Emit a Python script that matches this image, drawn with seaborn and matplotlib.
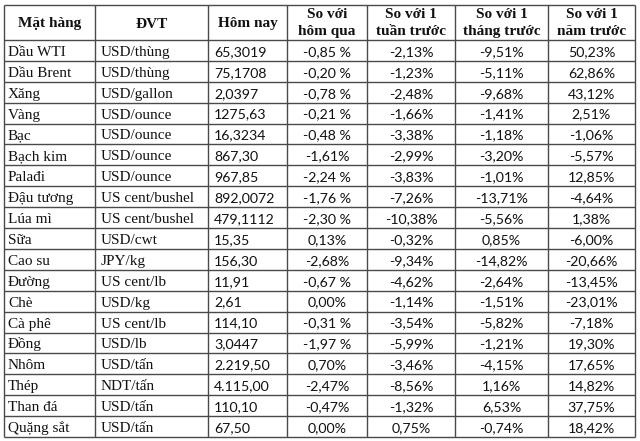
import matplotlib
matplotlib.use("Agg")
import matplotlib.pyplot as plt
import seaborn as sns

sns.set_theme(style="white")

headers = ["Mặt hàng", "ĐVT", "Hôm nay", "So với\nhôm qua", "So với 1\ntuần trước",
           "So với 1\ntháng trước", "So với 1\nnăm trước"]
items = ["Dầu WTI", "Dầu Brent", "Xăng", "Vàng", "Bạc", "Bạch kim", "Palađi", "Đậu tương",
         "Lúa mì", "Sữa", "Cao su", "Đường", "Chè", "Cà phê", "Đồng", "Nhôm", "Thép",
         "Than đá", "Quặng sắt"]
units = ["USD/thùng", "USD/thùng", "USD/gallon", "USD/ounce", "USD/ounce", "USD/ounce",
         "USD/ounce", "US cent/bushel", "US cent/bushel", "USD/cwt", "JPY/kg", "US cent/lb",
         "USD/kg", "US cent/lb", "USD/lb", "USD/tấn", "NDT/tấn", "USD/tấn", "USD/tấn"]
today = ["65,3019", "75,1708", "2,0397", "1275,63", "16,3234", "867,30", "967,85",
         "892,0072", "479,1112", "15,35", "156,30", "11,91", "2,61", "114,10", "3,0447",
         "2.219,50", "4.115,00", "110,10", "67,50"]
vs_day = ["-0,85 %", "-0,20 %", "-0,78 %", "-0,21 %", "-0,48 %", "-1,61%", "-2,24 %",
          "-1,76 %", "-2,30 %", "0,13%", "-2,68%", "-0,67 %", "0,00%", "-0,31 %", "-1,97 %",
          "0,70%", "-2,47%", "-0,47%", "0,00%"]
vs_week = ["-2,13%", "-1,23%", "-2,48%", "-1,66%", "-3,38%", "-2,99%", "-3,83%", "-7,26%",
           "-10,38%", "-0,32%", "-9,34%", "-4,62%", "-1,14%", "-3,54%", "-5,99%", "-3,46%",
           "-8,56%", "-1,32%", "0,75%"]
vs_month = ["-9,51%", "-5,11%", "-9,68%", "-1,41%", "-1,18%", "-3,20%", "-1,01%", "-13,71%",
            "-5,56%", "0,85%", "-14,82%", "-2,64%", "-1,51%", "-5,82%", "-1,21%", "-4,15%",
            "1,16%", "6,53%", "-0,74%"]
vs_year = ["50,23%", "62,86%", "43,12%", "2,51%", "-1,06%", "-5,57%", "12,85%", "-4,64%",
           "1,38%", "-6,00%", "-20,66%", "-13,45%", "-23,01%", "-7,18%", "19,30%", "17,65%",
           "14,82%", "37,75%", "18,42%"]

W, H = 640, 441
fig = plt.figure(figsize=(W / 100, H / 100), dpi=100)
ax = fig.add_axes([0, 0, 1, 1])
ax.set_xlim(0, W)
ax.set_ylim(H, 0)
ax.axis("off")

col_x = [4, 95, 208, 287, 367, 455, 548, 635]
top, head_bottom, bottom = 5, 40, 437
n = len(items)
rh = (bottom - head_bottom) / n
row_y = [head_bottom + i * rh for i in range(n + 1)]

line_c = "#4a4a4a"
ax.hlines([top] + row_y, col_x[0], col_x[-1], color=line_c, lw=1.0)
ax.vlines(col_x, top, bottom, color=line_c, lw=1.0)

serif = ["Liberation Serif", "DejaVu Serif"]
sans = ["Lato", "DejaVu Sans"]
tc = "#111111"

# headers
for j, h in enumerate(headers):
    cx = (col_x[j] + col_x[j + 1]) / 2
    if "\n" in h:
        l1, l2 = h.split("\n")
        ax.text(cx, 18.5, l1, ha="center", va="baseline", fontsize=11, fontweight="bold",
                family=serif, color=tc)
        ax.text(cx, 35, l2, ha="center", va="baseline", fontsize=11, fontweight="bold",
                family=serif, color=tc)
    else:
        ax.text(cx, 27.5, h, ha="center", va="baseline", fontsize=11, fontweight="bold",
                family=serif, color=tc)

cols = [vs_day, vs_week, vs_month, vs_year]
for i in range(n):
    by = row_y[i + 1] - 5
    ax.text(col_x[0] + 4, by, items[i], ha="left", va="baseline", fontsize=11,
            family=serif, color=tc)
    ax.text(col_x[1] + 6, by, units[i], ha="left", va="baseline", fontsize=11,
            family=serif, color=tc)
    ax.text(col_x[2] + 6, by, today[i], ha="left", va="baseline", fontsize=10.2,
            family=sans, color=tc)
    for k, c in enumerate(cols):
        cx = (col_x[3 + k] + col_x[4 + k]) / 2
        ax.text(cx, by, c[i], ha="center", va="baseline", fontsize=10.2,
                family=sans, color=tc)

fig.savefig("out.png", dpi=100, facecolor="white")
